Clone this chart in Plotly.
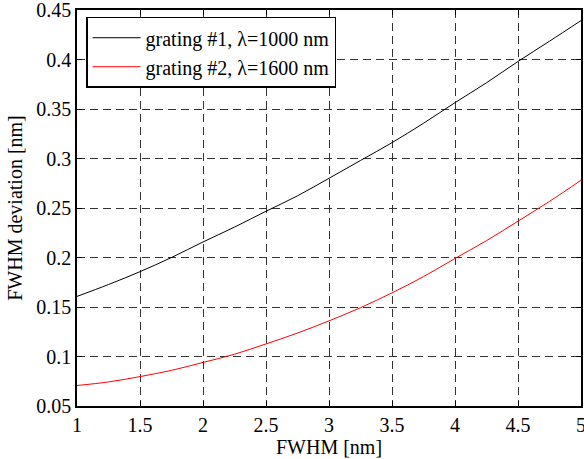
import plotly.graph_objects as go

fwhm = [1.0, 1.25, 1.5, 1.75, 2.0, 2.25, 2.5, 2.75, 3.0, 3.25, 3.5, 3.75, 4.0, 4.25, 4.5, 4.75, 5.0]
dev_grating1 = [0.1607, 0.1727, 0.1857, 0.2000, 0.2157, 0.2307, 0.2467, 0.2623, 0.2800,
                0.2980, 0.3160, 0.3356, 0.3564, 0.3765, 0.3980, 0.4185, 0.4393]
dev_grating2 = [0.0707, 0.0743, 0.0797, 0.0860, 0.0940, 0.1023, 0.1127, 0.1237, 0.1360,
                0.1493, 0.1643, 0.1807, 0.1990, 0.2170, 0.2367, 0.2567, 0.2780]
name1 = "grating #1, λ=1000 nm"
name2 = "grating #2, λ=1600 nm"
x_ticks = [1, 1.5, 2, 2.5, 3, 3.5, 4, 4.5, 5]
y_ticks = [0.05, 0.1, 0.15, 0.2, 0.25, 0.3, 0.35, 0.4, 0.45]

font = "Liberation Serif, Times New Roman, serif"
fs = 20

fig = go.Figure()
fig.add_trace(go.Scatter(x=fwhm, y=dev_grating1, mode="lines", name=name1,
                         line=dict(color="black", width=1, shape="spline")))
fig.add_trace(go.Scatter(x=fwhm, y=dev_grating2, mode="lines", name=name2,
                         line=dict(color="red", width=1, shape="spline")))

axis_common = dict(
    showline=True, linecolor="black", linewidth=1.5, mirror="ticks",
    ticks="inside", ticklen=5, tickcolor="black",
    showgrid=True, gridcolor="#333", griddash="8px,5px", gridwidth=1,
    zeroline=False, automargin=False, ticklabeloverflow="allow",
    tickfont=dict(family=font, size=fs, color="black"),
)

fig.update_xaxes(range=[1, 5], tickvals=x_ticks, ticktext=[f"{v:g}" for v in x_ticks],
                 title=dict(text="FWHM [nm]", font=dict(family=font, size=fs, color="black"), standoff=2),
                 **axis_common)
fig.update_yaxes(range=[0.05, 0.45], tickvals=y_ticks, ticktext=[f"{v:g}" for v in y_ticks],
                 title=dict(text="FWHM deviation [nm]", font=dict(family=font, size=fs, color="black"), standoff=8),
                 **axis_common)

fig.update_layout(
    width=584, height=459,
    margin=dict(l=77, r=3, t=10, b=53),
    paper_bgcolor="white", plot_bgcolor="white",
    font=dict(family=font, size=fs, color="black"),
    showlegend=True,
    legend=dict(x=0.018, y=0.983, xanchor="left", yanchor="top",
                bgcolor="white", bordercolor="black", borderwidth=1.5,
                font=dict(family=font, size=fs, color="black"),
                tracegroupgap=0, itemwidth=48),
)

fig.write_html("out.html", config={"displayModeBar": False},
               post_script="document.body.style.margin='0px';document.body.style.overflow='hidden';")
